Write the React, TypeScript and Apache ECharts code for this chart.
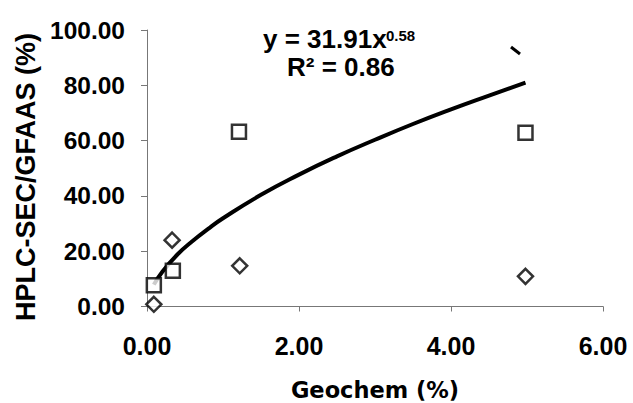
import React, { useEffect, useRef } from "react";
import * as echarts from "echarts";

const xTicks = [0, 2, 4, 6];
const yTicks = [0, 20, 40, 60, 80, 100];

const squareX = [0.09, 0.34, 1.21, 4.98];
const squareY = [7.7, 12.9, 63.2, 62.8];

const diamondX = [0.09, 0.33, 1.22, 4.98];
const diamondY = [0.8, 24.0, 14.7, 10.9];

const trendX = [0.09, 0.2, 0.4, 0.6, 0.8, 1.0, 1.5, 2.0, 2.5, 3.0, 3.5, 4.0, 4.5, 4.98];
const trendY = [7.9, 12.5, 18.8, 23.7, 28.0, 31.9, 40.4, 47.7, 54.3, 60.3, 66.0, 71.3, 76.3, 81.0];

const eqMain = "y = 31.91x";
const eqExp = "0.58";
const eqR2 = "R² = 0.86";
const xTitle = "Geochem (%)";
const yTitle = "HPLC-SEC/GFAAS (%)";

const ARIAL = "'Liberation Sans', Arial, sans-serif";
const VERDANA = "'DejaVu Sans', Verdana, sans-serif";

export default function App() {
  const ref = useRef<HTMLDivElement>(null);
  useEffect(() => {
    if (!ref.current) return;
    const chart = echarts.init(ref.current, null, { renderer: "svg" });
    const axisLine = { show: true, lineStyle: { color: "#777", width: 1 } };
    chart.setOption({
      animation: false,
      backgroundColor: "#fff",
      grid: { left: 147, right: 30, top: 30, bottom: 96.5, containLabel: false, outerBoundsMode: "none" },
      xAxis: {
        type: "value",
        min: xTicks[0],
        max: xTicks[xTicks.length - 1],
        interval: 2,
        axisLine,
        axisTick: { show: true, inside: false, length: 5, lineStyle: { color: "#777" } },
        splitLine: { show: false },
        axisLabel: {
          margin: 27,
          color: "#000",
          fontFamily: ARIAL,
          fontWeight: "bold",
          fontSize: 25,
          formatter: (v: number) => v.toFixed(2),
        },
        name: xTitle,
        nameLocation: "middle",
        nameGap: 72,
        nameTextStyle: { color: "#000", fontFamily: VERDANA, fontWeight: "bold", fontSize: 22.5, lineHeight: 22 },
      },
      yAxis: {
        type: "value",
        min: yTicks[0],
        max: yTicks[yTicks.length - 1],
        interval: 20,
        axisLine,
        axisTick: { show: true, inside: false, length: 6, lineStyle: { color: "#777" } },
        splitLine: { show: false },
        axisLabel: {
          margin: 22,
          color: "#000",
          fontFamily: ARIAL,
          fontWeight: "bold",
          fontSize: 24.5,
          formatter: (v: number) => v.toFixed(2),
        },
      },
      graphic: [
        {
          type: "text",
          x: 26,
          y: 177,
          rotation: Math.PI / 2,
          style: {
            text: yTitle,
            fill: "#000",
            font: `bold 27px ${ARIAL}`,
            textAlign: "center",
            textVerticalAlign: "middle",
          },
        },
        {
          type: "text",
          x: 263,
          y: 52,
          style: { text: eqMain, fill: "#000", font: `bold 26px ${ARIAL}`, textAlign: "left", textVerticalAlign: "bottom" },
        },
        {
          type: "text",
          x: 386,
          y: 43,
          style: { text: eqExp, fill: "#000", font: `bold 15px ${ARIAL}`, textAlign: "left", textVerticalAlign: "bottom" },
        },
        {
          type: "text",
          x: 287,
          y: 80,
          style: { text: eqR2, fill: "#000", font: `bold 26px ${ARIAL}`, textAlign: "left", textVerticalAlign: "bottom" },
        },
        {
          type: "line",
          shape: { x1: 511, y1: 47, x2: 520, y2: 54 },
          style: { stroke: "#000", lineWidth: 3 },
        },
      ],
      series: [
        {
          type: "line",
          data: trendX.map((x, i) => [x, trendY[i]]),
          smooth: true,
          showSymbol: false,
          symbol: "none",
          lineStyle: { color: "#000", width: 4 },
          z: 2,
        },
        {
          type: "scatter",
          data: squareX.map((x, i) => [x, squareY[i]]),
          symbol: "rect",
          symbolSize: 14,
          itemStyle: { color: "#fff", borderColor: "#000", borderWidth: 2.5 },
          z: 3,
        },
        {
          type: "scatter",
          data: diamondX.map((x, i) => [x, diamondY[i]]),
          symbol: "diamond",
          symbolSize: [15, 15],
          itemStyle: { color: "#fff", borderColor: "#000", borderWidth: 2.5 },
          z: 3,
        },
      ],
    });
    return () => chart.dispose();
  }, []);
  return (
    <div
      ref={ref}
      style={{ position: "absolute", left: 0, top: 0, width: 633, height: 403, background: "#fff" }}
    />
  );
}
